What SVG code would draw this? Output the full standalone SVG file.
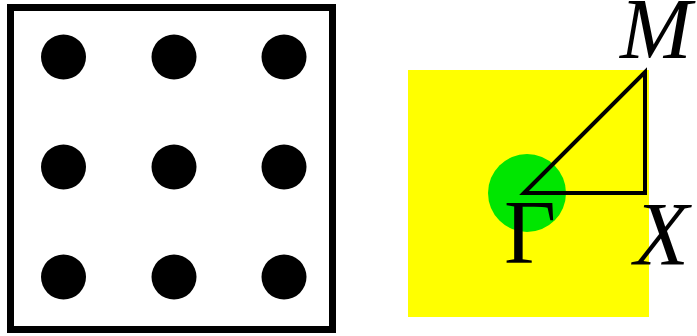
<svg xmlns="http://www.w3.org/2000/svg" width="697" height="336" viewBox="0 0 697 336">
<style>
.dot{fill:#000}
.lbl{font-family:"Liberation Serif","Times New Roman",serif;font-size:90px;fill:#000}
.it{font-style:italic}
.edge{stroke:#000;stroke-width:4;fill:none;stroke-linejoin:miter}
</style>
<g id="lattice">
<rect x="10.5" y="7.5" width="322" height="322" fill="#fff" stroke="#000" stroke-width="7"/>
<circle class="dot" cx="63.5" cy="57" r="22.5"/>
<circle class="dot" cx="174" cy="57" r="22.5"/>
<circle class="dot" cx="284" cy="57" r="22.5"/>
<circle class="dot" cx="63.5" cy="167" r="22.5"/>
<circle class="dot" cx="174" cy="167" r="22.5"/>
<circle class="dot" cx="284" cy="167" r="22.5"/>
<circle class="dot" cx="63.5" cy="277" r="22.5"/>
<circle class="dot" cx="174" cy="277" r="22.5"/>
<circle class="dot" cx="284" cy="277" r="22.5"/>
</g>
<g id="brillouin">
<rect x="408" y="70" width="241" height="247" fill="#ffff00"/>
<circle cx="527" cy="193" r="39" fill="#00e600"/>
</g>
<g id="connectors">
<path class="edge" d="M524,193 L645,72 L645,193 Z"/>
</g>
<g id="label-M"><text class="lbl it" x="620" y="58" style="font-size:86px">M</text></g>
<g id="label-X"><text class="lbl it" x="634" y="265">X</text></g>
<g id="label-Gamma"><text class="lbl" x="504" y="263">Γ</text></g>
</svg>
